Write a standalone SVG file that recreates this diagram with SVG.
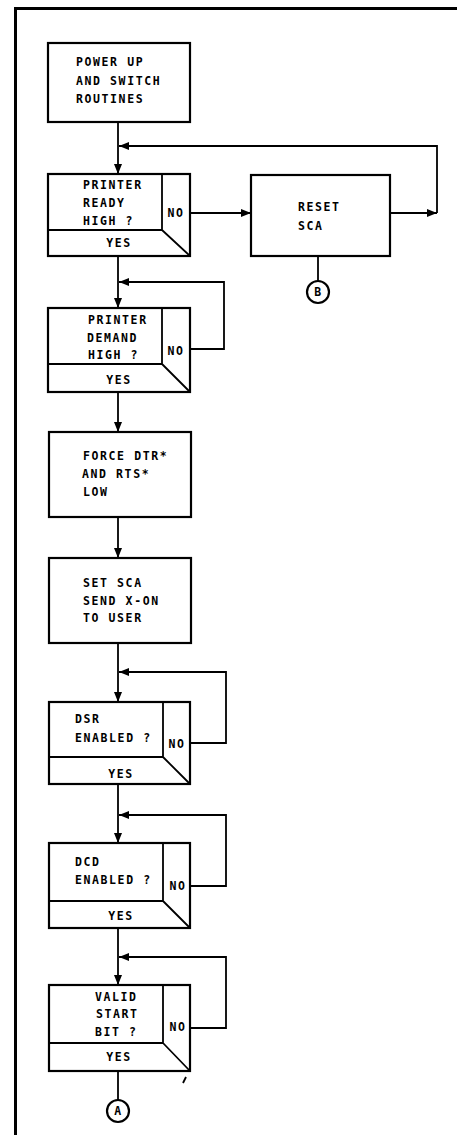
<svg xmlns="http://www.w3.org/2000/svg" width="457" height="1135" viewBox="0 0 457 1135">
<style>
.box{fill:#fff;stroke:#000;stroke-width:2.2}
.div{fill:none;stroke:#000;stroke-width:1.8}
.ln{fill:none;stroke:#000;stroke-width:1.8}
.t{font-family:"DejaVu Sans Mono",monospace;font-size:11.5px;font-weight:bold;letter-spacing:1.6px;fill:#000}
.c{text-anchor:middle}
.frame{fill:none;stroke:#000;stroke-width:3}
</style>
<defs>
<marker id="ah" viewBox="0 0 10 8" refX="10" refY="4" markerWidth="10" markerHeight="8" markerUnits="userSpaceOnUse" orient="auto">
<path d="M0,0 L10,4 L0,8 z" fill="#000"/>
</marker>
</defs>
<rect width="457" height="1135" fill="#fff"/>
<path class="frame" d="M15.5,1135 V8.5 H457"/>

<g id="connectors">
<path class="ln" d="M118,122 V174" marker-end="url(#ah)"/>
<path class="ln" d="M390,213 H437" marker-end="url(#ah)"/>
<path class="ln" d="M437,213 V146 H119" marker-end="url(#ah)"/>
<path class="ln" d="M190,213 H251" marker-end="url(#ah)"/>
<path class="ln" d="M318,256 V281"/>
<path class="ln" d="M118,256 V308" marker-end="url(#ah)"/>
<path class="ln" d="M190,349 H224 V282 H119" marker-end="url(#ah)"/>
<path class="ln" d="M118,392 V432" marker-end="url(#ah)"/>
<path class="ln" d="M118,517 V558" marker-end="url(#ah)"/>
<path class="ln" d="M118,643 V702" marker-end="url(#ah)"/>
<path class="ln" d="M190,743 H226 V672 H119" marker-end="url(#ah)"/>
<path class="ln" d="M118,784 V843" marker-end="url(#ah)"/>
<path class="ln" d="M190,886 H226 V815 H119" marker-end="url(#ah)"/>
<path class="ln" d="M118,928 V985" marker-end="url(#ah)"/>
<path class="ln" d="M190,1028 H226 V957 H119" marker-end="url(#ah)"/>
<path class="ln" d="M118,1071 V1100"/>
<path class="ln" d="M186,1077 L183,1083" stroke-width="1"/>
</g>

<g id="power-up">
<rect class="box" x="48" y="43" width="142" height="79"/>
<text class="t" x="76" y="66">POWER UP</text>
<text class="t" x="76" y="85">AND SWITCH</text>
<text class="t" x="76" y="103">ROUTINES</text>
</g>

<g id="printer-ready">
<rect class="box" x="48" y="174" width="142" height="82"/>
<path class="div" d="M162,174 V230 H48 M162,230 L190,256"/>
<text class="t" x="83" y="189">PRINTER</text>
<text class="t" x="83" y="207">READY</text>
<text class="t" x="83" y="225">HIGH ?</text>
<text class="t c" x="176" y="217">NO</text>
<text class="t c" x="119" y="247">YES</text>
</g>

<g id="reset-sca">
<rect class="box" x="251" y="175" width="139" height="81"/>
<text class="t" x="298" y="211">RESET</text>
<text class="t" x="298" y="230">SCA</text>
</g>

<g id="connector-b">
<circle class="box" cx="318" cy="292" r="11"/>
<text class="t c" x="318.5" y="296" letter-spacing="0">B</text>
</g>

<g id="printer-demand">
<rect class="box" x="48" y="308" width="142" height="84"/>
<path class="div" d="M162,308 V364 H48 M162,364 L190,392"/>
<text class="t" x="88" y="324">PRINTER</text>
<text class="t" x="87" y="342">DEMAND</text>
<text class="t" x="88" y="359">HIGH ?</text>
<text class="t c" x="176" y="355">NO</text>
<text class="t c" x="119" y="384">YES</text>
</g>

<g id="force-dtr">
<rect class="box" x="49" y="432" width="142" height="85"/>
<text class="t" x="83" y="460">FORCE DTR*</text>
<text class="t" x="82" y="478">AND RTS*</text>
<text class="t" x="83" y="496">LOW</text>
</g>

<g id="set-sca">
<rect class="box" x="49" y="558" width="142" height="85"/>
<text class="t" x="83" y="587">SET SCA</text>
<text class="t" x="83" y="605">SEND X-ON</text>
<text class="t" x="83" y="622">TO USER</text>
</g>

<g id="dsr-enabled">
<rect class="box" x="49" y="702" width="141" height="82"/>
<path class="div" d="M163,702 V757 H49 M163,757 L190,784"/>
<text class="t" x="75" y="723">DSR</text>
<text class="t" x="75" y="742">ENABLED ?</text>
<text class="t c" x="177" y="748">NO</text>
<text class="t c" x="121" y="778">YES</text>
</g>

<g id="dcd-enabled">
<rect class="box" x="49" y="843" width="141" height="85"/>
<path class="div" d="M163,843 V901 H49 M163,901 L190,928"/>
<text class="t" x="75" y="866">DCD</text>
<text class="t" x="75" y="884">ENABLED ?</text>
<text class="t c" x="178" y="890">NO</text>
<text class="t c" x="121" y="920">YES</text>
</g>

<g id="valid-start-bit">
<rect class="box" x="49" y="985" width="141" height="86"/>
<path class="div" d="M163,985 V1043 H49 M163,1043 L190,1071"/>
<text class="t" x="95" y="1001">VALID</text>
<text class="t" x="96" y="1018">START</text>
<text class="t" x="95" y="1036">BIT ?</text>
<text class="t c" x="178" y="1031">NO</text>
<text class="t c" x="119" y="1061">YES</text>
</g>

<g id="connector-a">
<circle class="box" cx="118" cy="1111" r="11"/>
<text class="t c" x="118.5" y="1115" letter-spacing="0">A</text>
</g>
</svg>
